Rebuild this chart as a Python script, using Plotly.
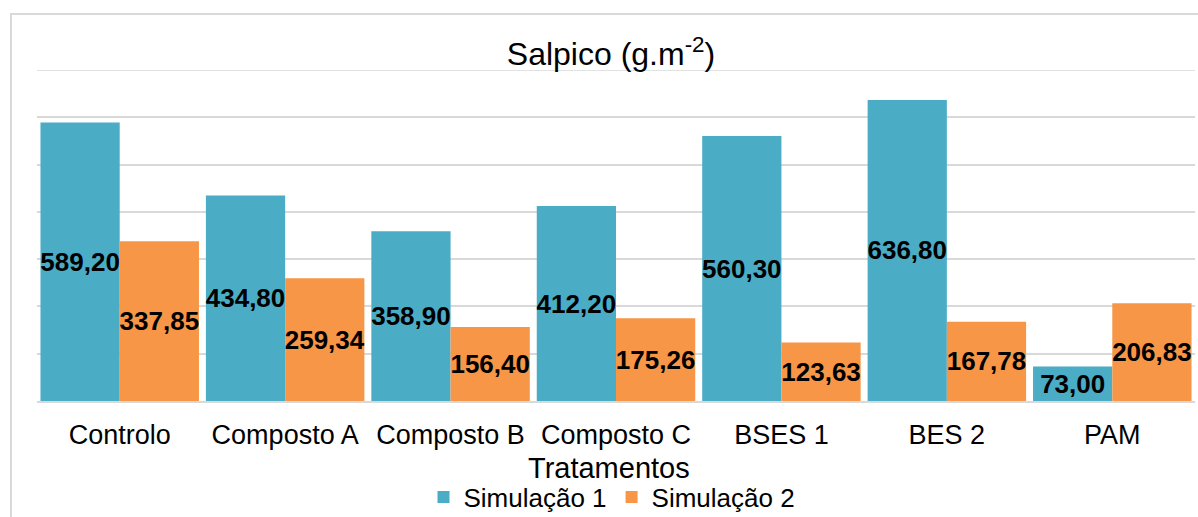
import plotly.graph_objects as go

# Salpico (splash) per treatment, two simulations
tratamentos = ["Controlo", "Composto A", "Composto B", "Composto C", "BSES 1", "BES 2", "PAM"]
simulacao_1 = [589.20, 434.80, 358.90, 412.20, 560.30, 636.80, 73.00]
simulacao_2 = [337.85, 259.34, 156.40, 175.26, 123.63, 167.78, 206.83]

W, H = 1198, 517
ML, MR, MT, MB = 37, 3, 70, 116
FONT = "Liberation Sans, Arial, sans-serif"
Y_MAX = 700


def fmt(v):
    return f"{v:.2f}".replace(".", ",")


fig = go.Figure()
for name, vals, color in [
    ("Simulação 1", simulacao_1, "#4BACC6"),
    ("Simulação 2", simulacao_2, "#F79646"),
]:
    fig.add_trace(go.Bar(
        name=name,
        x=tratamentos,
        y=vals,
        marker=dict(color=color, line=dict(width=0)),
        text=[fmt(v) for v in vals],
        textposition="inside",
        insidetextanchor="middle",
        constraintext="none",
        textangle=0,
        textfont=dict(family=FONT, size=26, color="black", weight="bold"),
        hoverinfo="skip",
    ))

pw = W - ML - MR
ph = H - MT - MB

fig.update_layout(
    width=W,
    height=H,
    margin=dict(l=ML, r=MR, t=MT, b=MB, pad=0),
    paper_bgcolor="white",
    plot_bgcolor="white",
    barmode="group",
    bargap=0.042,
    bargroupgap=0,
    font=dict(family=FONT, color="black"),
    title=dict(
        text="Salpico (g.m<sup>-2</sup>)",
        x=(611 - ML) / pw,
        xref="paper",
        xanchor="center",
        y=1 - 54 / H,
        yref="container",
        yanchor="middle",
        font=dict(family=FONT, size=32, color="black"),
    ),
    xaxis=dict(
        showgrid=False,
        showline=True,
        linecolor="#d9d9d9",
        linewidth=1.5,
        ticks="outside",
        ticklen=9,
        tickcolor="rgba(0,0,0,0)",
        tickfont=dict(family=FONT, size=27, color="black"),
    ),
    yaxis=dict(
        range=[0, Y_MAX],
        dtick=100,
        showgrid=True,
        gridcolor="#d9d9d9",
        gridwidth=1.5,
        zeroline=False,
        showticklabels=False,
        showline=False,
    ),
    showlegend=True,
    legend=dict(
        orientation="h",
        x=(612 - ML) / pw,
        xanchor="center",
        y=1 - 497 / H,
        yref="container",
        yanchor="middle",
        font=dict(family=FONT, size=26, color="black"),
        itemwidth=30,
        tracegroupgap=0,
    ),
    annotations=[
        dict(
            text="Tratamentos",
            x=(609 - ML) / pw,
            xref="paper",
            xanchor="center",
            y=-(468 - (H - MB)) / ph,
            yref="paper",
            yanchor="middle",
            showarrow=False,
            font=dict(family=FONT, size=29, color="black"),
        )
    ],
    shapes=[
        # outer chart frame
        dict(
            type="rect",
            xref="paper",
            yref="paper",
            x0=(11 - ML) / pw,
            x1=(W + 5 - ML) / pw,
            y0=-(H + 5 - MT - ph) / ph,
            y1=(H - MB - 14) / ph,
            line=dict(color="#d9d9d9", width=2),
            fillcolor="rgba(0,0,0,0)",
            layer="below",
        ),
        # top gridline at the axis maximum
        dict(
            type="line",
            xref="paper",
            yref="y",
            x0=0,
            x1=1,
            y0=Y_MAX,
            y1=Y_MAX,
            line=dict(color="#d9d9d9", width=1.5),
            layer="below",
        ),
    ],
)

fig.write_html("out.html")
